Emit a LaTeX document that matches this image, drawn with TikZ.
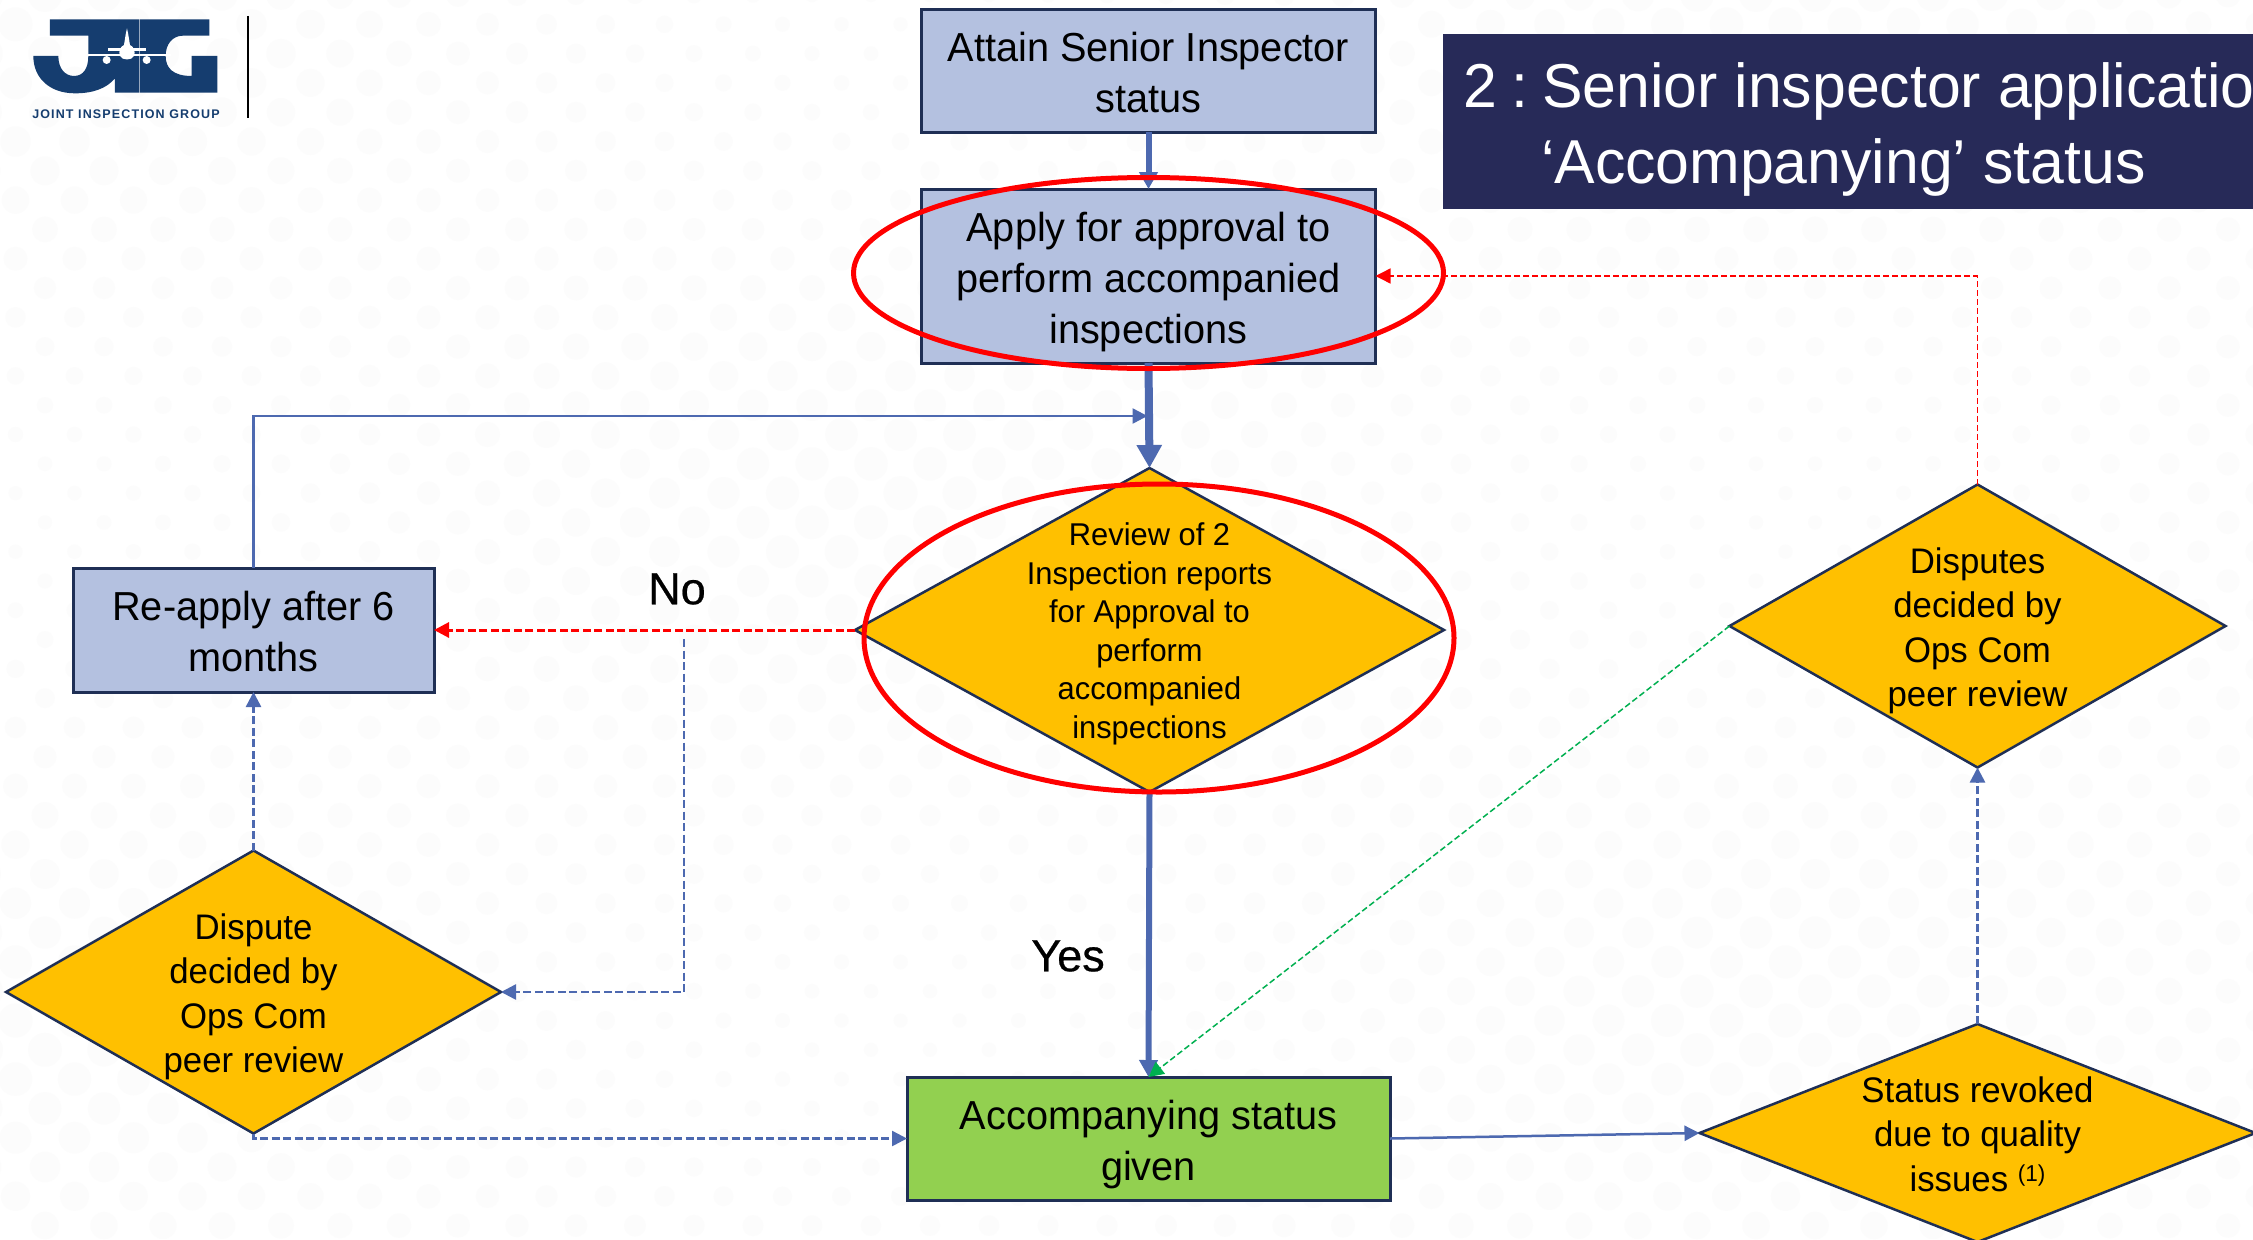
\documentclass[tikz,border=0pt]{standalone}
\usepackage{fontspec}
\setmainfont[FakeStretch=0.98]{Liberation Sans}
\newfontfamily\logofont[LetterSpace=9]{Liberation Sans}
\newfontfamily\labfont[FakeBold=0.5]{Liberation Sans}
\usetikzlibrary{shapes.geometric,arrows.meta}
\definecolor{navy}{HTML}{1F2F55}
\definecolor{boxblue}{HTML}{B4C1E0}
\definecolor{gold}{HTML}{FFC000}
\definecolor{leaf}{HTML}{92D050}
\definecolor{linkblue}{HTML}{4D69B0}
\definecolor{titlebg}{HTML}{272A58}
\definecolor{jigblue}{HTML}{153D6F}
\definecolor{dotgrey}{HTML}{FCFCFC}
\definecolor{dashgreen}{HTML}{00B050}
\tikzset{
  x=1pt,y=-1pt,
  every node/.style={inner sep=0pt,outer sep=0pt,align=center,text=black},
  boxfont/.style={font=\fontsize{40.5}{51}\selectfont},
  procbox/.style={rectangle,draw=navy,line width=3pt,fill=boxblue,boxfont},
  decision/.style={diamond,draw=navy,line width=2.5pt,fill=gold,aspect=1},
  dtext/.style={font=\fontsize{35.5}{44.5}\selectfont,align=center},
  dtextsmall/.style={font=\fontsize{31.5}{38.5}\selectfont,align=center},
  redring/.style={ellipse,draw=red,line width=5pt,fill=none},
  tipbig/.style={-{Triangle[length=23pt,width=24pt]}},
  tipmid/.style={-{Triangle[length=17pt,width=18pt]}},
  tipsmall/.style={-{Triangle[length=15pt,width=15pt]}},
  dashline/.style={dash pattern=on 8pt off 3.5pt},
  thindash/.style={dash pattern=on 6pt off 3pt},
}
\begin{document}
\begin{tikzpicture}
\clip (0,0) rectangle (2253,1239);
\fill[white] (0,0) rectangle (2253,1239);
% faint dotted background
\foreach \i in {0,...,42}{
  \foreach \k in {0,...,38}{
    \pgfmathsetmacro{\px}{-14+59*\k+29.5*mod(\i,2)}
    \pgfmathsetmacro{\py}{-5+29.3*\i}
    \pgfmathsetmacro{\rr}{max(3,12+5*cos(0.2*\px)*cos(0.35*\py))}
    \fill[dotgrey] (\px,\py) circle[radius=\rr pt];
  }
}
% logo
\begin{scope}[x=0.3333pt,y=-0.3333pt]
  \fill[jigblue] (150,58) -- (418,58) -- (418,278) -- (345,278) -- (345,235)
    .. controls (320,265) and (280,280) .. (225,280)
    .. controls (150,280) and (100,235) .. (100,168)
    -- (175,168) .. controls (175,205) and (195,228) .. (222,228)
    .. controls (250,228) and (265,205) .. (265,168) -- (265,107) -- (150,107) -- cycle;
  \fill[jigblue] (420,58) -- (628,58) -- (628,107) -- (550,107)
    .. controls (515,107) and (497,135) .. (497,168)
    .. controls (497,205) and (520,228) .. (575,228)
    -- (575,168) -- (652,168) -- (652,278) -- (420,278) -- cycle;
  \fill[white] (381,85) .. controls (386,105) and (388,125) .. (390,135)
    .. controls (402,140) and (407,155) .. (402,168)
    .. controls (395,182) and (367,182) .. (360,168)
    .. controls (355,155) and (360,140) .. (372,135)
    .. controls (374,125) and (376,105) .. (381,85) -- cycle;
  \fill[white] (325,145) -- (438,145) -- (438,152) -- (325,152) -- cycle;
  \fill[white] (252,162) -- (512,162) -- (512,169) -- (252,169) -- cycle;
  \fill[white] (320,180) circle[radius=4pt];
  \fill[white] (440,180) circle[radius=4pt];
\end{scope}
\node[font=\logofont\bfseries\fontsize{12.5}{14}\selectfont,text=jigblue] (logotext) at (126,114) {JOINT INSPECTION GROUP};
\draw[black,line width=2pt] (248,16) -- (248,118);
% title band
\fill[titlebg] (1443,34) rectangle (2253,209);
\node[anchor=west,text=white,font=\fontsize{62}{76}\selectfont,align=left] (title) at (1463,91) {2\hspace{0.23em}:\hspace{0.23em}Senior inspector application};
\node[anchor=west,text=white,font=\fontsize{62}{76}\selectfont,align=left] (title2) at (1541,167) {‘Accompanying’ status};
% nodes
\node[procbox,minimum width=454pt,minimum height=122pt,label={[boxfont,yshift=-2pt]center:Attain Senior Inspector\\status}] (attain) at (1148.5,71) {};
\node[procbox,minimum width=454pt,minimum height=174pt,label={[boxfont,yshift=-6pt]center:Apply for approval to\\perform accompanied\\inspections}] (apply) at (1148.5,276) {};
\node[decision,minimum width=589pt,minimum height=324pt,label={[dtextsmall,yshift=-4pt]center:Review of 2\\Inspection reports\\for Approval to\\perform\\accompanied\\inspections}] (review) at (1149.5,630) {};
\node[procbox,minimum width=361pt,minimum height=124pt,label={[boxfont,yshift=-2pt]center:Re-apply after 6\\months}] (reapply) at (253.5,630) {};
\node[decision,minimum width=495pt,minimum height=283pt,label={[dtext,yshift=-5pt]center:Dispute\\decided by\\Ops Com\\peer review}] (dispute) at (253.5,992) {};
\node[procbox,fill=leaf,minimum width=483pt,minimum height=123pt,label={[boxfont,yshift=-6pt]center:Accompanying status\\given}] (accomp) at (1148.5,1138.5) {};
\node[decision,minimum width=556pt,minimum height=218pt,label={[dtext,yshift=-1pt]center:Status revoked\\due to quality\\issues {\fontsize{23}{25}\selectfont\raisebox{10pt}{(1)}}}] (revoked) at (1977.5,1133) {};
\node[decision,minimum width=496pt,minimum height=283pt,label={[dtext,yshift=-5pt]center:Disputes\\decided by\\Ops Com\\peer review}] (disputes) at (1977.5,626) {};
\coordinate (fbend) at (1147.5,416);
\coordinate (branch) at (684,639);
% connectors
\draw[linkblue,line width=6pt,tipmid] (attain.south) -- (apply.north);
\draw[linkblue,line width=8pt,tipbig] (apply.south) -- (review.north);
\draw[linkblue,line width=6pt,tipmid] (review.south) -- (accomp.north);
\draw[linkblue,line width=2.5pt,tipsmall] (reapply.north) |- (fbend);
\draw[red,line width=3pt,dashline,tipsmall] (review.west) -- (reapply.east);
\draw[linkblue,line width=2.5pt,dashline,tipsmall] (branch) |- (dispute.east);
\draw[linkblue,line width=2.5pt,dashline,tipsmall] (dispute.north) -- (reapply.south);
\draw[linkblue,line width=2.5pt,dashline,tipsmall] (dispute.south) |- (accomp.west);
\draw[linkblue,line width=2.5pt,tipsmall] (accomp.east) -- (revoked.west);
\draw[linkblue,line width=2.5pt,dashline,tipsmall] (revoked.north) -- (disputes.south);
\draw[red,line width=1.5pt,thindash,tipsmall] (disputes.north) |- (apply.east);
\draw[dashgreen,line width=1.5pt,thindash,tipsmall] (disputes.west) -- (accomp.north);
% red rings
\node[redring,minimum width=590pt,minimum height=191pt] (ringapply) at (1148.5,273) {};
\node[redring,minimum width=590pt,minimum height=308pt] (ringreview) at (1159,638) {};
% labels
\node[font=\labfont\fontsize{45}{50}\selectfont] (no) at (677,589) {No};
\node[font=\labfont\fontsize{45}{50}\selectfont] (yes) at (1068,956) {Yes};
\end{tikzpicture}
\end{document}
